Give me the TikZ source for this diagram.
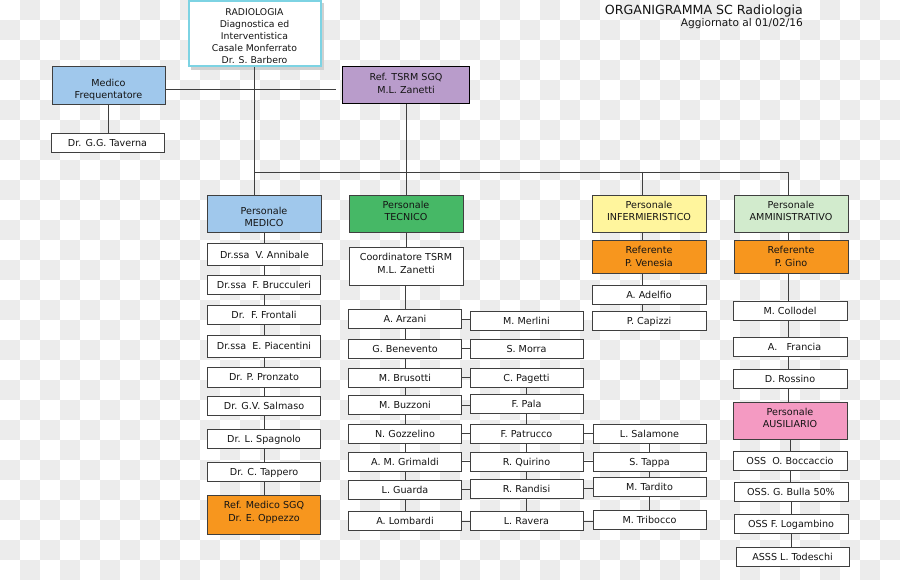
\documentclass[tikz,border=0pt]{standalone}
\usepackage{fontspec}
\setmainfont{DejaVu Sans}
\definecolor{cbg}{HTML}{ECECEC}
\definecolor{cline}{HTML}{3F3F3F}
\definecolor{cblue}{HTML}{A0C8EC}
\definecolor{cgreen}{HTML}{46B866}
\definecolor{cyellow}{HTML}{FFF59D}
\definecolor{cpale}{HTML}{D2EBCD}
\definecolor{corange}{HTML}{F7961E}
\definecolor{cpurple}{HTML}{B99CCB}
\definecolor{cpink}{HTML}{F49AC2}
\definecolor{ccyan}{HTML}{7DD3E3}
\definecolor{ctext}{HTML}{141414}
\newcommand\boxfont{\fontsize{9.6}{12.5}\selectfont}
\newcommand\vlink[2]{\draw[conn] (#1.south) -- (#1.south |- #2.north);}
\newcommand\hlink[2]{\draw[conn] (#1.east) -- (#1.east -| #2.west);}
\begin{document}
\begin{tikzpicture}[x=1pt,y=-1pt,
  box/.style={draw=cline, line width=0.8pt, fill=white, text=ctext,
    minimum width=113pt, minimum height=19pt, inner sep=1pt,
    align=center, font=\boxfont, text depth=0pt},
  tall/.style={box, minimum height=37pt},
  lbl/.style={inner sep=0pt, align=center, font=\boxfont, text=ctext, text depth=0pt},
  conn/.style={draw=cline, line width=0.8pt}]
\useasboundingbox (0,0) rectangle (900,580);
% checkerboard background
\fill[white] (0,0) rectangle (900,580);
\foreach \j in {0,2,...,28}{\foreach \i in {1,3,...,43}{\fill[cbg] (\i*20,\j*20) rectangle ++(20,20);}}
\foreach \j in {1,3,...,27}{\foreach \i in {0,2,...,44}{\fill[cbg] (\i*20,\j*20) rectangle ++(20,20);}}
% title
\node[anchor=base east, inner sep=0, text=ctext, font=\fontsize{12.6}{14}\selectfont] (title) at (803,15) {ORGANIGRAMMA SC Radiologia};
\node[anchor=base east, inner sep=0, text=ctext, font=\fontsize{10.6}{12}\selectfont] (subtitle) at (803,26.5) {Aggiornato al 01/02/16};
% Radiologia box
\fill[black!18] (191,3) rectangle (324,70);
\node[draw=ccyan, line width=2pt, fill=white, minimum width=132pt, minimum height=65pt, inner sep=0] (rad) at (254.5,34) {};
\begin{scope}
\clip (190,2) rectangle (320,62.5);
\node[anchor=north, inner sep=0, align=center, text=ctext, font=\fontsize{9.3}{12}\selectfont] (radtxt) at (254.5,8.3) {RADIOLOGIA\\Diagnostica ed\\Interventistica\\Casale Monferrato\\Dr. S. Barbero};
\end{scope}
% top level
\node[tall, fill=cblue, minimum height=38pt, label={[lbl, yshift=-4pt]center:{Medico\\Frequentatore}}] (medfreq) at (108.5,85) {};
\node[box] (taverna) at (107.5,142.5) {Dr. G.G. Taverna};
\node[tall, fill=cpurple, draw=black, line width=1.8pt, minimum width=127pt, minimum height=37pt, label={[lbl, yshift=1.5pt]center:{Ref. TSRM SGQ\\M.L. Zanetti}}] (zan) at (406,85) {};
% categories
\node[tall, fill=cblue, minimum width=114pt, label={[lbl, yshift=-3pt]center:{Personale\\MEDICO}}] (pmed) at (264,214) {};
\node[tall, fill=cgreen, minimum width=114pt, label={[lbl, yshift=2.5pt]center:{Personale\\TECNICO}}] (ptec) at (406,213.5) {};
\node[tall, fill=cyellow, minimum width=114pt, label={[lbl, yshift=2.5pt]center:{Personale\\INFERMIERISTICO}}] (pinf) at (649,213.5) {};
\node[tall, fill=cpale, minimum width=114pt, label={[lbl, yshift=2.5pt]center:{Personale\\AMMINISTRATIVO}}] (pamm) at (791,213.5) {};
% medico column
\node[box, minimum width=115pt, minimum height=22pt] (annibale) at (264.5,254.5) {Dr.ssa~~V. Annibale};
\node[box] (bruccu) at (264,284.5) {Dr.ssa~~F. Brucculeri};
\node[box] (frontali) at (264,314.5) {Dr.~~F. Frontali};
\node[box, minimum height=22pt] (piacentini) at (264,346) {Dr.ssa~~E. Piacentini};
\node[box, minimum height=20pt] (pronzato) at (264,377) {Dr. P. Pronzato};
\node[box] (salmaso) at (264,405.5) {Dr. G.V. Salmaso};
\node[box] (spagnolo) at (264,438.5) {Dr. L. Spagnolo};
\node[box] (tappero) at (264,472) {Dr. C. Tappero};
\node[tall, fill=corange, minimum height=39pt, label={[lbl, yshift=3pt]center:{Ref. Medico SGQ\\Dr. E. Oppezzo}}] (refmed) at (264,514.5) {};
% tecnico
\node[tall, minimum width=114pt, minimum height=38pt, label={[lbl, yshift=2.5pt]center:{Coordinatore TSRM\\M.L. Zanetti}}] (coord) at (406,266) {};
\node[box] (arzani) at (405,319) {A. Arzani};
\node[box] (benevento) at (405,348.5) {G. Benevento};
\node[box] (brusotti) at (405,377.5) {M. Brusotti};
\node[box] (buzzoni) at (405,405) {M. Buzzoni};
\node[box] (gozzelino) at (405,433.5) {N. Gozzelino};
\node[box] (grimaldi) at (405,461.5) {A. M. Grimaldi};
\node[box] (guarda) at (405,489.5) {L. Guarda};
\node[box] (lombardi) at (405,521) {A. Lombardi};
\node[box] (merlini) at (526.5,321) {M. Merlini};
\node[box] (morra) at (526.5,348.5) {S. Morra};
\node[box] (pagetti) at (526.5,377.5) {C. Pagetti};
\node[box] (pala) at (526.5,403.5) {F. Pala};
\node[box] (patrucco) at (526.5,433.5) {F. Patrucco};
\node[box] (quirino) at (526.5,461.5) {R. Quirino};
\node[box] (randisi) at (526.5,488.5) {R. Randisi};
\node[box] (ravera) at (526.5,521) {L. Ravera};
\node[box] (salamone) at (649.5,433.5) {L. Salamone};
\node[box] (tappa) at (649.5,461.5) {S. Tappa};
\node[box] (tardito) at (649.5,487) {M. Tardito};
\node[box] (tribocco) at (649.5,519.5) {M. Tribocco};
% infermieristico
\node[box, fill=corange, minimum width=114pt, minimum height=33pt, label={[lbl]center:{Referente\\P. Venesia}}] (venesia) at (649,256.5) {};
\node[box, minimum width=114pt] (adelfio) at (649,294.5) {A. Adelfio};
\node[box, minimum width=114pt] (capizzi) at (649,320.5) {P. Capizzi};
% amministrativo
\node[box, fill=corange, minimum width=114pt, minimum height=33pt, label={[lbl]center:{Referente\\P. Gino}}] (gino) at (791,256.5) {};
\node[box, minimum width=114pt] (collodel) at (790,310.5) {M. Collodel};
\node[box, minimum width=114pt] (francia) at (790,346.5) {~~~A.~~~Francia};
\node[box, minimum width=114pt] (rossino) at (790,379) {D. Rossino};
\node[tall, fill=cpink, minimum width=114pt, label={[lbl, yshift=2.5pt]center:{Personale\\AUSILIARIO}}] (ausil) at (790,420.5) {};
\node[box, minimum width=114pt] (boccaccio) at (790,460.5) {OSS~~O. Boccaccio};
\node[box, minimum width=114pt] (bulla) at (791,491.5) {OSS. G. Bulla 50\%};
\node[box, minimum width=114pt] (logambino) at (791,523.5) {OSS F. Logambino};
\node[box, minimum width=113pt] (todeschi) at (792.5,556.5) {ASSS L. Todeschi};
% bus coordinates
\coordinate (mfy) at (0,89);
\coordinate (mfend) at (336,89);
\coordinate (b0) at (254,172);
\coordinate (b1) at (642,172);
\coordinate (b2) at (788,172);
% connectors top
\draw[conn] (medfreq.east |- mfy) -- (mfend);
\vlink{medfreq}{taverna}
\draw[conn] (rad.south -| b0) -- (b0 |- pmed.north);
\draw[conn] (b0) -- (b2) -- (b2 |- pamm.north);
\draw[conn] (b1) -- (b1 |- pinf.north);
\vlink{zan}{ptec}
% medico
\vlink{pmed}{annibale}
\vlink{annibale}{bruccu}
\vlink{bruccu}{frontali}
\vlink{frontali}{piacentini}
\vlink{piacentini}{pronzato}
\vlink{pronzato}{salmaso}
\vlink{salmaso}{spagnolo}
\vlink{spagnolo}{tappero}
\vlink{tappero}{refmed}
% tecnico
\vlink{ptec}{coord}
\draw[conn] (coord.south -| arzani) -- (arzani.north);
\vlink{arzani}{benevento}
\vlink{benevento}{brusotti}
\vlink{brusotti}{buzzoni}
\vlink{buzzoni}{gozzelino}
\vlink{gozzelino}{grimaldi}
\vlink{grimaldi}{guarda}
\vlink{guarda}{lombardi}
\hlink{arzani}{merlini}
\hlink{benevento}{morra}
\hlink{brusotti}{pagetti}
\hlink{buzzoni}{pala}
\hlink{gozzelino}{patrucco}
\hlink{grimaldi}{quirino}
\hlink{guarda}{randisi}
\hlink{lombardi}{ravera}
\vlink{pagetti}{pala}
\vlink{pala}{patrucco}
\vlink{patrucco}{quirino}
\vlink{quirino}{randisi}
\vlink{randisi}{ravera}
\hlink{patrucco}{salamone}
\hlink{quirino}{tappa}
\hlink{randisi}{tardito}
\hlink{ravera}{tribocco}
\vlink{salamone}{tappa}
\vlink{tappa}{tardito}
\vlink{tardito}{tribocco}
% infermieristico
\draw[conn] (pinf.south -| b1) -- (b1 |- venesia.north);
\draw[conn] (venesia.south -| b1) -- (b1 |- adelfio.north);
\draw[conn] (adelfio.south -| b1) -- (b1 |- capizzi.north);
% amministrativo
\draw[conn] (pamm.south -| b2) -- (b2 |- gino.north);
\draw[conn] (gino.south -| b2) -- (b2 |- collodel.north);
\draw[conn] (collodel.south -| b2) -- (b2 |- francia.north);
\draw[conn] (francia.south -| b2) -- (b2 |- rossino.north);
\draw[conn] (rossino.south -| b2) -- (b2 |- ausil.north);
\vlink{ausil}{boccaccio}
\vlink{boccaccio}{bulla}
\vlink{bulla}{logambino}
\vlink{logambino}{todeschi}
\end{tikzpicture}
\end{document}
